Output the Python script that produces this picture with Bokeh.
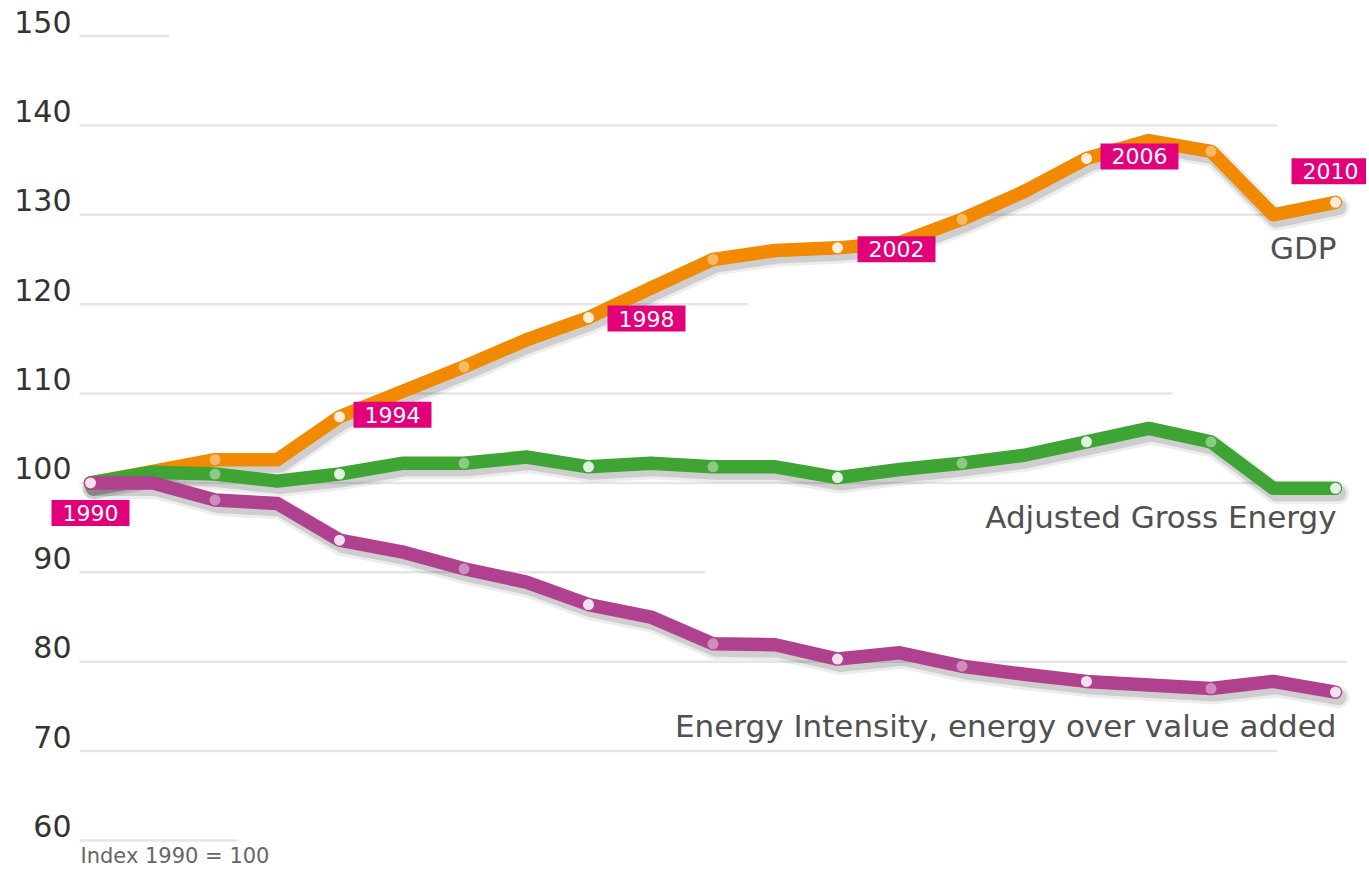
from bokeh.plotting import figure
from bokeh.models import ColumnDataSource, Range1d
from bokeh.core.properties import value
from bokeh.embed import file_html
from bokeh.resources import INLINE

# ---------------- data ----------------
years = list(range(1990, 2011))
gdp = [100.0, 101.3, 102.6, 102.6, 107.4, 110.2, 113.0, 116.0, 118.5, 121.8,
       125.0, 126.0, 126.3, 126.9, 129.5, 132.6, 136.3, 138.3, 137.1, 130.0, 131.4]
gross_energy = [100.0, 101.2, 101.0, 100.2, 101.0, 102.2, 102.2, 102.9, 101.8, 102.2,
                101.8, 101.8, 100.6, 101.5, 102.2, 103.1, 104.6, 106.1, 104.6, 99.4, 99.4]
intensity = [100.0, 100.0, 98.1, 97.7, 93.6, 92.3, 90.4, 88.9, 86.4, 85.0,
             82.0, 81.9, 80.3, 81.0, 79.5, 78.6, 77.8, 77.4, 77.0, 77.8, 76.6]
series_names = ["GDP", "Adjusted Gross Energy", "Energy Intensity, energy over value added"]
y_ticks = [60, 70, 80, 90, 100, 110, 120, 130, 140, 150]
label_years = [1990, 1994, 1998, 2002, 2006, 2010]
note = "Index 1990 = 100"

# ---------------- geometry ----------------
W, H = 1366, 869
PX_YEAR = 62.25
PX_UNIT = 8.939
x_start = 1990 - 90 / PX_YEAR
y_top = 150 + 35.5 / PX_UNIT
y_bottom = y_top - H / PX_UNIT

p = figure(width=W, height=H, output_backend="svg", toolbar_location=None,
           x_range=Range1d(x_start, x_start + W / PX_YEAR),
           y_range=Range1d(y_bottom, y_top),
           x_axis_type=None, y_axis_type=None, min_border=0)
p.outline_line_color = None
p.background_fill_color = "white"
p.border_fill_color = "white"

# partial grid lines (as in the reference)
grid_end_px = {150: 169, 140: 1277, 130: 1277, 120: 748, 110: 1172,
               100: 1277, 90: 705, 80: 1347, 70: 1277, 60: 237}
g_x0 = [x_start + 79 / PX_YEAR] * len(y_ticks)
g_x1 = [x_start + grid_end_px[t] / PX_YEAR for t in y_ticks]
p.segment(x0=g_x0, y0=y_ticks, x1=g_x1, y1=y_ticks,
          line_color="#e6e6e6", line_width=2.5)

# tick labels
p.text(x=[x_start] * len(y_ticks), y=y_ticks, text=[str(t) for t in y_ticks],
       x_offset=71, y_offset=-14.5, text_align="right", text_baseline="middle",
       text_font=value("DejaVu Sans"), text_font_size="30px", text_color="#333333")

colors = ["#f18a00", "#3ea535", "#b0418e"]
all_series = [gdp, gross_energy, intensity]

dx = 3 / PX_YEAR
dy = 5 / PX_UNIT
for vals, col in zip(all_series, colors):
    sx = [x + dx for x in years]
    sy = [v - dy for v in vals]
    p.line(sx, sy, line_color="black", line_alpha=0.07, line_width=22,
           line_join="round", line_cap="round")
    p.line(sx, sy, line_color="black", line_alpha=0.13, line_width=16,
           line_join="round", line_cap="round")
    p.line(years, vals, line_color=col, line_width=13.5,
           line_join="round", line_cap="round")
    dyears = [y for y in years if (y - 1990) % 2 == 0]
    dvals = [v for y, v in zip(years, vals) if (y - 1990) % 2 == 0]
    dalpha = [0.85 if (y - 1990) % 4 == 0 else 0.4 for y in dyears]
    p.scatter(dyears, dvals, size=11, fill_color="white", fill_alpha=dalpha,
              line_color=None)

# year labels on GDP line
offsets = {1990: (0, 30), 1994: (53, -2), 1998: (58, 1), 2002: (59, 1.5),
           2006: (53, -2), 2010: (-5, -31)}
lab_src = ColumnDataSource(dict(
    x=label_years,
    y=[gdp[years.index(y)] for y in label_years],
    text=[str(y) for y in label_years],
    xo=[offsets[y][0] for y in label_years],
    yo=[offsets[y][1] for y in label_years],
))
p.text(x="x", y="y", text="text", x_offset="xo", y_offset="yo", source=lab_src,
       text_align="center", text_baseline="middle",
       text_font=value("DejaVu Sans"), text_font_size="22px", text_color="white",
       background_fill_color="#e2007a", padding=dict(x=11, y=5))

# series labels
end_vals = [s[-1] for s in all_series]
p.text(x=[years[-1]] * 3, y=end_vals, text=series_names,
       x_offset=1, y_offset=[46, 29, 33.5], text_align="right",
       text_baseline="middle", text_font=value("DejaVu Sans"),
       text_font_size="31px", text_color="#505050")

# note
p.text(x=[x_start], y=[y_bottom], text=[note], x_offset=80, y_offset=-14,
       text_align="left", text_baseline="middle", text_font=value("DejaVu Sans"),
       text_font_size="21px", text_color="#666666")

open("out.html", "w").write(file_html(p, INLINE))
